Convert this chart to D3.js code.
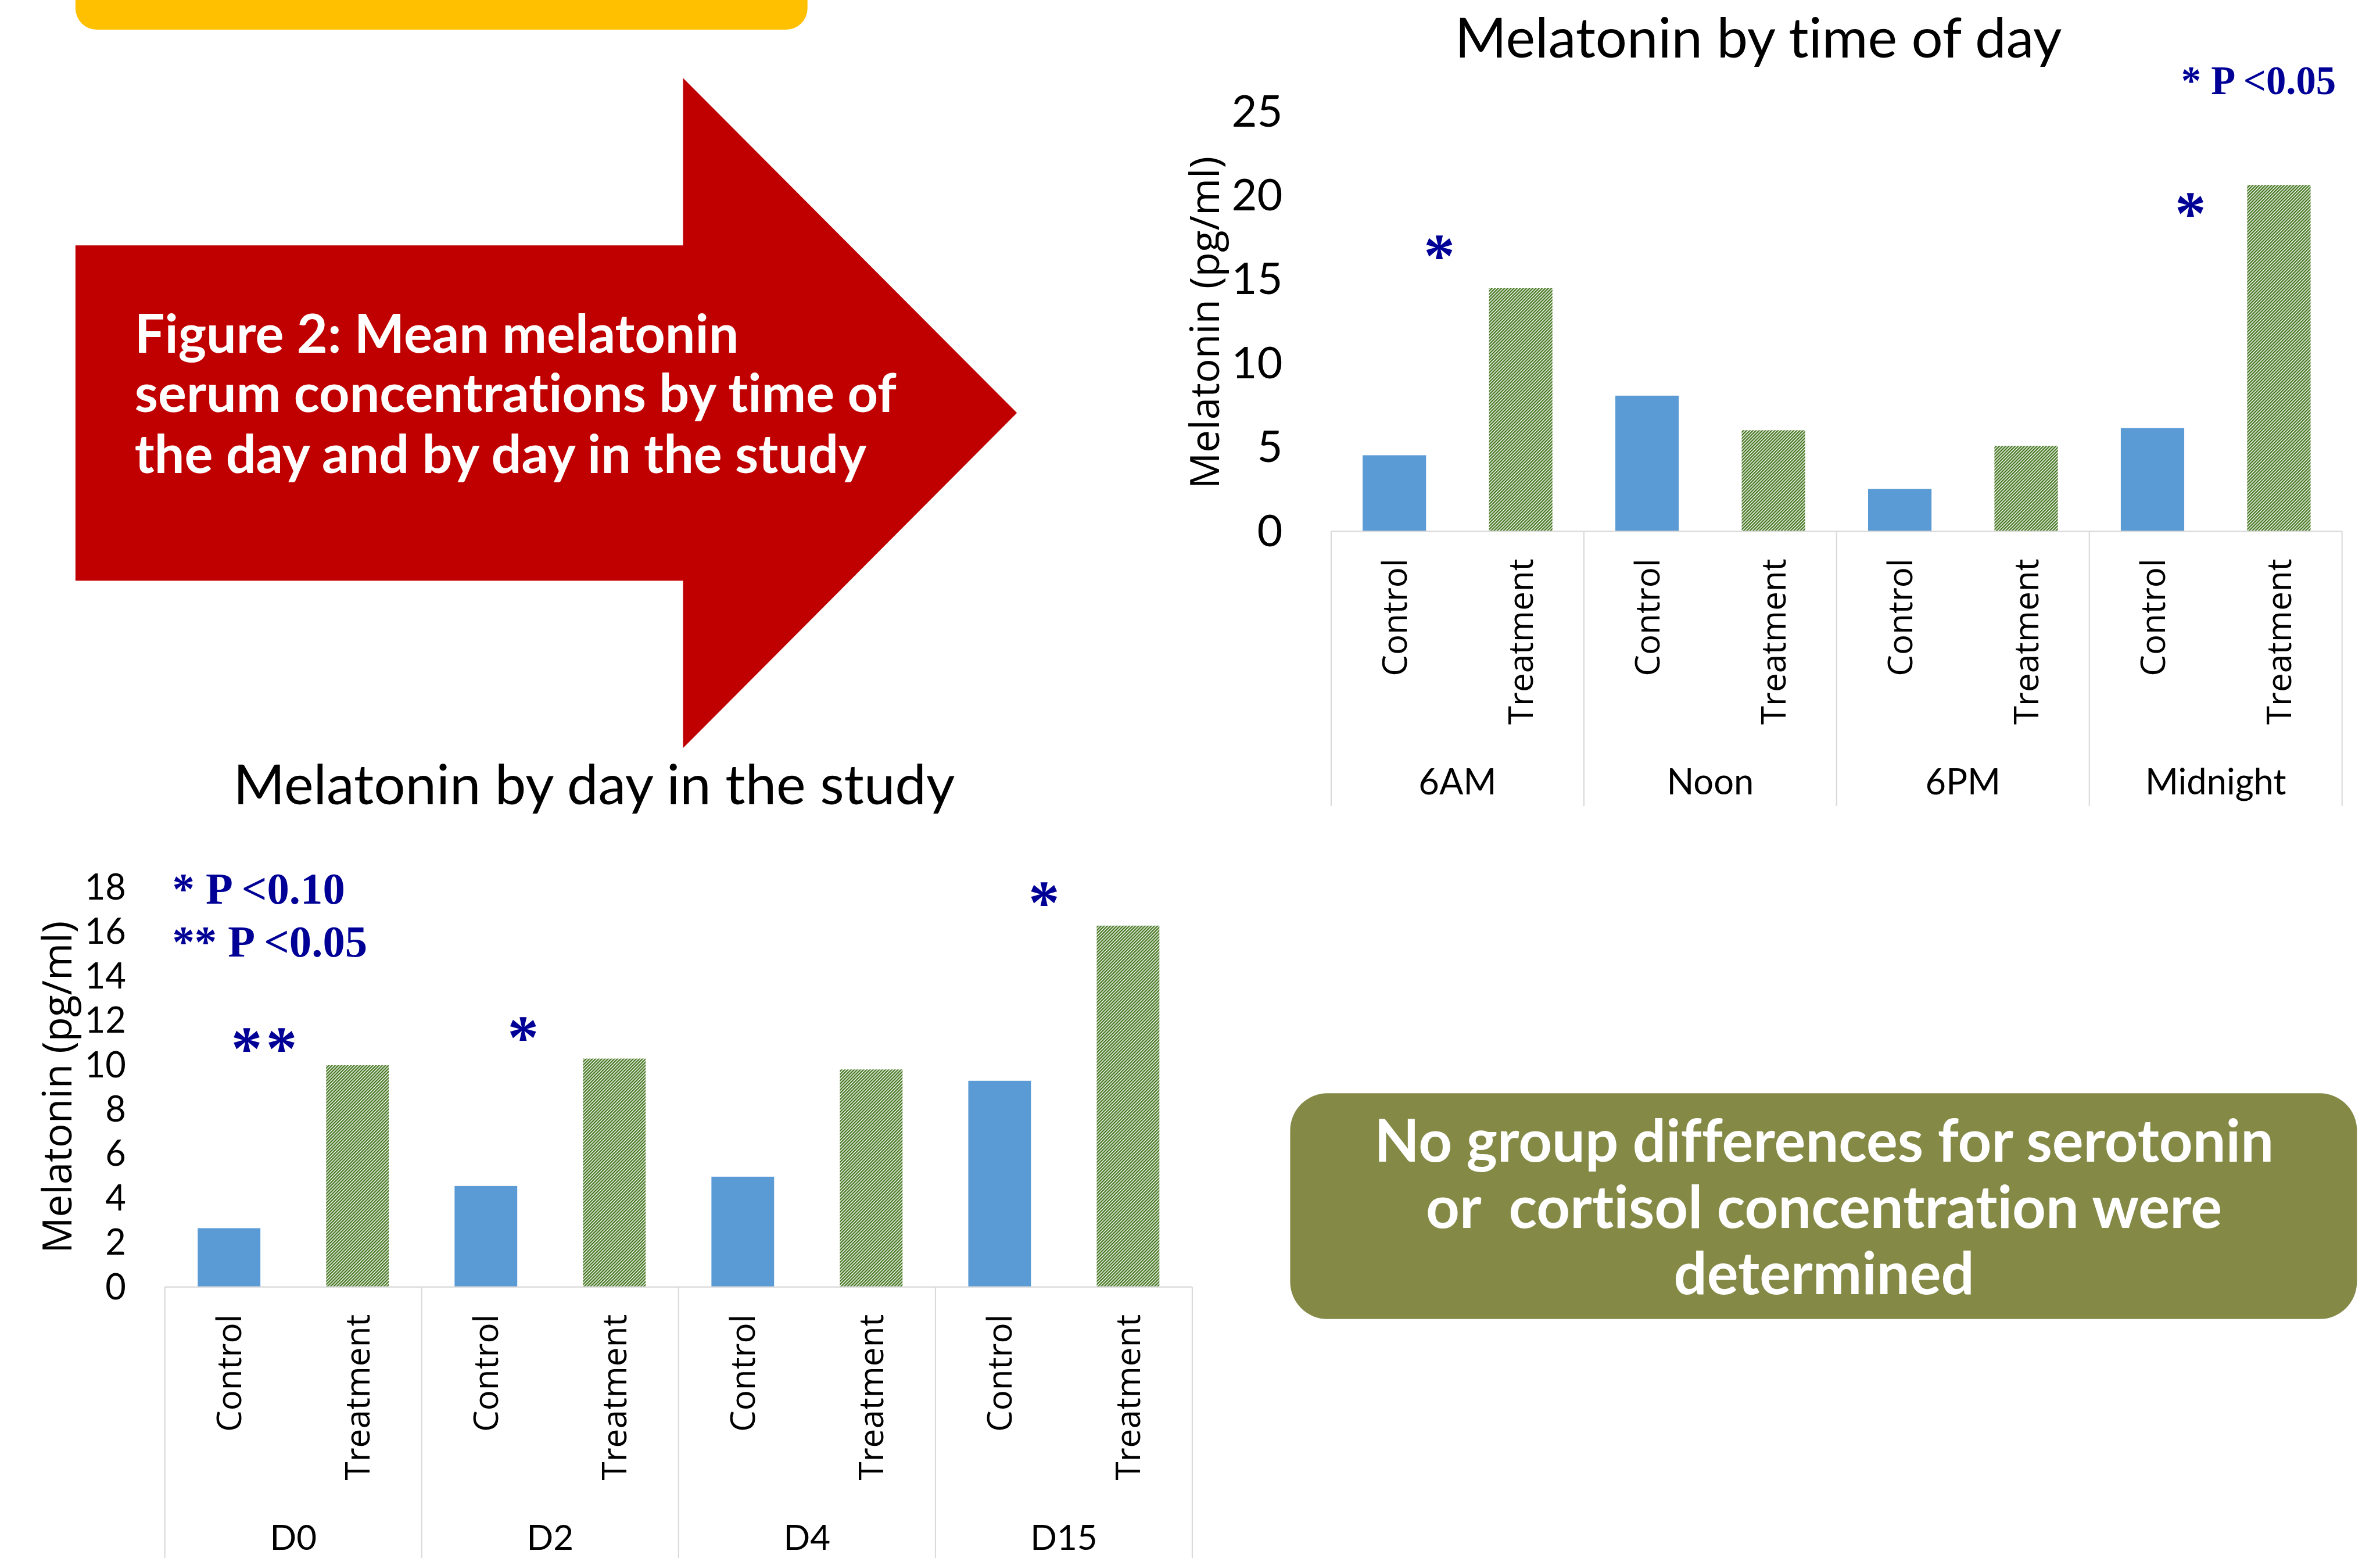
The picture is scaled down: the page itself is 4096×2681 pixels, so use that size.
<!DOCTYPE html>
<html><head><meta charset="utf-8">
<script src="https://cdn.jsdelivr.net/npm/d3@7"></script>
<style>html,body{margin:0;padding:0;background:#fff;overflow:hidden} text{font-variant-ligatures:none}</style>
</head><body>
<svg id="chart" width="4096" height="2681" xmlns="http://www.w3.org/2000/svg"></svg>
<script>
// ---------------- data ----------------
const groupNames = ["Control", "Treatment"];
const timeCategories = ["6AM", "Noon", "6PM", "Midnight"];
const timeControl = [4.53, 8.08, 2.53, 6.15];
const timeTreatment = [14.48, 6.02, 5.09, 20.63];
const timeTicks = [0, 5, 10, 15, 20, 25];
const timeMarks = ["*", "", "", "*"];
const timeLegend = ["* P <0.05"];
const timeTitle = "Melatonin by time of day";

const dayCategories = ["D0", "D2", "D4", "D15"];
const dayControl = [2.65, 4.55, 4.97, 9.29];
const dayTreatment = [9.99, 10.29, 9.80, 16.28];
const dayTicks = [0, 2, 4, 6, 8, 10, 12, 14, 16, 18];
const dayMarks = ["**", "*", "", "*"];
const dayLegend = ["* P <0.10", "** P <0.05"];
const dayTitle = "Melatonin by day in the study";

const yAxisTitle = "Melatonin (pg/ml)";
const arrowLines = ["Figure 2: Mean melatonin", "serum concentrations by time of", "the day and by day in the study"];
const boxLines = ["No group differences for serotonin", "or  cortisol concentration were", "determined"];

// ---------------- layout (reference units, 1568 wide) ----------------
const K = 4096 / 1568;
const NAVY = "#000096";
const svg = d3.select("#chart");
const defs = svg.append("defs");
const root = svg.append("g").attr("transform", `scale(${K})`);

const P = 1.46;
const pat = defs.append("pattern").attr("id", "hatch").attr("patternUnits", "userSpaceOnUse")
  .attr("width", P).attr("height", P).attr("patternTransform", "rotate(45)");
pat.append("rect").attr("width", P).attr("height", P).attr("fill", "#ffffff");
pat.append("rect").attr("width", P * 0.62).attr("height", P).attr("fill", "#44761f");

function fitSize(family, weight, text, target) {
  const t = root.append("text").attr("font-family", family).attr("font-weight", weight)
    .attr("font-size", 100).style("white-space", "pre").text(text);
  const len = t.node().getComputedTextLength();
  t.remove();
  return 100 * target / len;
}

// ---------------- decorations ----------------
root.append("rect").attr("x", 49.7).attr("y", -30).attr("width", 482.3).attr("height", 49.5)
  .attr("rx", 14).attr("fill", "#FFC000");

const arrowPts = [[49.7, 161.6], [450, 161.6], [450, 51.4], [670, 272], [450, 492.8], [450, 382.5], [49.7, 382.5]];
root.append("path").attr("d", d3.line()(arrowPts) + "Z").attr("fill", "#C00000");

const arrowFs = fitSize("Lato", "bold", arrowLines[1], 502);
root.selectAll("text.arrowtxt").data(arrowLines).join("text").attr("class", "arrowtxt")
  .attr("x", 88.7).attr("y", (d, i) => [232.5, 271.6, 311.5][i])
  .attr("font-family", "Lato").attr("font-weight", "bold").attr("font-size", arrowFs)
  .attr("fill", "#fff").text(d => d);

root.append("rect").attr("x", 850).attr("y", 720.2).attr("width", 702.8).attr("height", 148.7)
  .attr("rx", 24.5).attr("fill", "#848946");
const boxFs = fitSize("Lato", "bold", boxLines[0], 592.6);
root.selectAll("text.boxtxt").data(boxLines).join("text").attr("class", "boxtxt")
  .attr("x", 1201.7).attr("y", (d, i) => [765.4, 809, 852.6][i]).attr("text-anchor", "middle")
  .style("white-space", "pre")
  .attr("font-family", "Lato").attr("font-weight", "bold").attr("font-size", boxFs)
  .attr("fill", "#fff").text(d => d);

// ---------------- charts ----------------
const titleFs = fitSize("Lato", "normal", dayTitle, 475.5);
const subFs = fitSize("Open Sans", "normal", "Control", 77.5);
const yTitleFs = fitSize("Open Sans", "normal", yAxisTitle, 219);

function barChart(o) {
  const x0 = d3.scaleBand().domain(o.cats).range([o.left, o.right]);
  const x1 = d3.scaleBand().domain(groupNames).range([0, x0.bandwidth()]);
  const y = d3.scaleLinear().domain([0, o.max]).range([o.base, o.top]);
  const g = root.append("g");
  const rows = o.cats.map((c, i) => ({ cat: c, Control: o.ctrl[i], Treatment: o.trt[i], mark: o.marks[i], mpos: o.markPos[i] }));
  const bw = x1.bandwidth() * o.barFrac;

  // title
  g.append("text").attr("x", o.titleX).attr("y", o.titleY).attr("text-anchor", "middle")
    .attr("font-family", "Lato").attr("font-size", titleFs).attr("fill", "#000").text(o.title);

  // bars
  g.selectAll("g.grp").data(rows).join("g").attr("class", "grp")
    .attr("transform", d => `translate(${x0(d.cat)},0)`)
    .selectAll("rect").data(d => groupNames.map(k => ({ k, v: d[k] }))).join("rect")
    .attr("x", d => x1(d.k) + (x1.bandwidth() - bw) / 2).attr("width", bw)
    .attr("y", d => y(d.v)).attr("height", d => y(0) - y(d.v))
    .attr("fill", d => d.k === "Control" ? "#5B9BD5" : "url(#hatch)");

  // category axis line + separators
  g.append("line").attr("x1", o.left).attr("x2", o.right).attr("y1", y(0)).attr("y2", y(0))
    .attr("stroke", "#D9D9D9").attr("stroke-width", 0.8);
  const bounds = o.cats.map(c => x0(c)).concat([o.right]);
  g.selectAll("line.sep").data(bounds).join("line").attr("class", "sep")
    .attr("x1", d => d).attr("x2", d => d).attr("y1", y(0)).attr("y2", y(0) + 181)
    .attr("stroke", "#D9D9D9").attr("stroke-width", 0.8);

  // sub-category labels (rotated)
  const subs = [];
  o.cats.forEach(c => groupNames.forEach(k => subs.push({ c, k })));
  g.selectAll("text.sub").data(subs).join("text").attr("class", "sub")
    .attr("transform", d => `translate(${x0(d.c) + x1(d.k) + x1.bandwidth() / 2 + 0.36 * subFs},${y(0) + 18}) rotate(-90)`)
    .attr("text-anchor", "end").attr("font-family", "Open Sans").attr("font-size", subFs)
    .attr("fill", "#000").text(d => d.k);

  // group labels
  g.selectAll("text.cat").data(o.cats).join("text").attr("class", "cat")
    .attr("x", d => x0(d) + x0.bandwidth() / 2).attr("y", y(0) + 173.3).attr("text-anchor", "middle")
    .attr("font-family", "Lato").attr("font-size", o.catFs).attr("fill", "#000").text(d => d);

  // value axis
  const ag = g.append("g").attr("transform", `translate(${o.left},0)`)
    .call(d3.axisLeft(y).tickValues(o.ticks).tickSize(0).tickPadding(o.tickPad));
  ag.select(".domain").remove();
  ag.selectAll("text").attr("font-family", "Lato").attr("font-size", o.tickFs).attr("fill", "#000");

  // axis title
  g.append("text").attr("transform", `translate(${o.yTitleX},${(y(0) + y(o.max)) / 2 + o.yTitleDy}) rotate(-90)`)
    .attr("text-anchor", "middle").attr("font-family", "Open Sans").attr("font-size", yTitleFs)
    .attr("fill", "#000").text(yAxisTitle);

  // significance marks
  g.selectAll("text.mark").data(rows.filter(d => d.mark)).join("text").attr("class", "mark")
    .attr("x", d => x0(d.cat) + d.mpos[0] * x0.bandwidth())
    .attr("y", d => y(d.mpos[1]) + 0.48 * o.markFs)
    .attr("text-anchor", "middle").attr("font-family", "Liberation Serif").attr("font-weight", "bold")
    .attr("font-size", o.markFs).attr("letter-spacing", d => d.mark.length > 1 ? 2.5 : 0)
    .attr("fill", NAVY).text(d => d.mark);

  // legend
  const lfs = fitSize("Liberation Serif", "bold", o.legend[o.legend.length - 1], o.legendW);
  g.selectAll("text.leg").data(o.legend).join("text").attr("class", "leg")
    .attr("x", o.legX).attr("y", (d, i) => o.legY[i])
    .style("white-space", "pre").attr("font-family", "Liberation Serif").attr("font-weight", "bold")
    .attr("font-size", lfs).attr("fill", NAVY).text(d => d);
}

barChart({
  cats: timeCategories, ctrl: timeControl, trt: timeTreatment, ticks: timeTicks, max: 25,
  marks: timeMarks, markPos: [[0.428, 16.93], null, null, [0.40, 19.43]],
  left: 877, right: 1543, base: 350, top: 73.5, barFrac: 0.502,
  title: timeTitle, titleX: 1158.5, titleY: 38,
  catFs: 23.5, tickFs: 29, tickPad: 32, yTitleX: 803, yTitleDy: 0.7,
  markFs: 41, legend: timeLegend, legendW: 102, legX: 1437, legY: [62]
});

barChart({
  cats: dayCategories, ctrl: dayControl, trt: dayTreatment, ticks: dayTicks, max: 18,
  marks: dayMarks, markPos: [[0.394, 11.13], [0.395, 11.63], null, [0.423, 17.7]],
  left: 108.6, right: 785.5, base: 847.8, top: 584.6, barFrac: 0.488,
  title: dayTitle, titleX: 391.4, titleY: 530,
  catFs: 23, tickFs: 23.5, tickPad: 25.6, yTitleX: 47, yTitleDy: 0,
  markFs: 41, legend: dayLegend, legendW: 128.5, legX: 113.5, legY: [595.2, 630.3]
});
</script>
</body></html>
